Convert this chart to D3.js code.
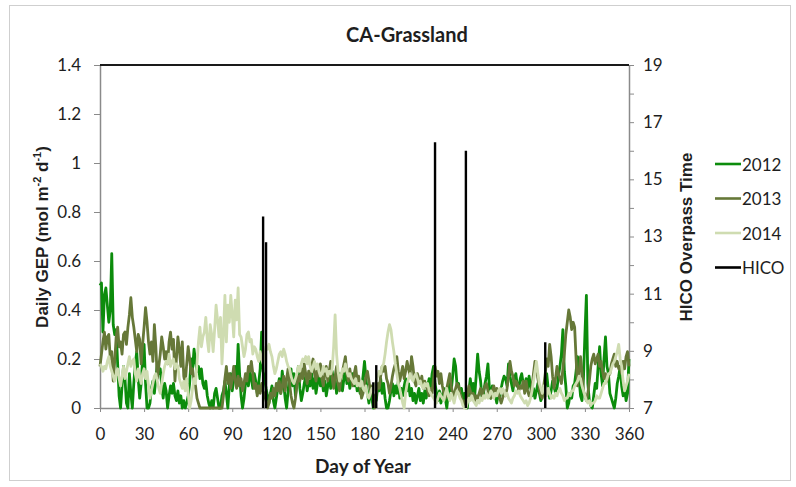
<!DOCTYPE html>
<html>
<head>
<meta charset="utf-8">
<script src="https://cdn.jsdelivr.net/npm/d3@7"></script>
<style>
  body { margin: 0; background: #fff; }
  svg { display: block; }
</style>
</head>
<body>
<svg id="chart" width="796" height="487"></svg>
<script>
// Daily gross ecosystem productivity (mol m-2 d-1), index = day of year (0..360)
const gep2012 = [
  0.50,0.51,0.31,0.46,0.49,0.42,0.35,0.40,0.63,0.34,
  0.30,0.32,0.18,0.05,0.00,0.09,0.17,0.12,0.02,0.00,
  0.14,0.06,0.00,0.10,0.18,0.23,0.12,0.04,0.10,0.20,
  0.26,0.10,0.00,0.00,0.02,0.08,0.11,0.06,0.12,0.18,
  0.14,0.16,0.09,0.04,0.10,0.07,0.00,0.05,0.09,0.06,
  0.10,0.05,0.03,0.07,0.02,0.05,0.00,0.03,0.00,0.02,
  0.05,0.10,0.20,0.16,0.24,0.19,0.15,0.17,0.12,0.16,
  0.10,0.08,0.11,0.05,0.02,0.00,0.03,0.00,0.06,0.08,
  0.04,0.00,0.00,0.05,0.07,0.11,0.06,0.00,0.09,0.14,
  0.07,0.12,0.17,0.10,0.26,0.14,0.05,0.00,0.04,0.10,
  0.13,0.09,0.15,0.12,0.08,0.14,0.11,0.06,0.10,0.16,
  0.31,0.15,0.12,0.08,0.05,0.02,0.06,0.09,0.03,0.00,
  0.04,0.08,0.12,0.06,0.15,0.10,0.04,0.00,0.07,0.13,
  0.16,0.09,0.14,0.05,0.11,0.17,0.08,0.03,0.06,0.10,
  0.13,0.07,0.11,0.09,0.14,0.08,0.12,0.06,0.10,0.15,
  0.09,0.12,0.07,0.11,0.05,0.09,0.13,0.08,0.15,0.10,
  0.12,0.06,0.09,0.14,0.11,0.07,0.12,0.16,0.10,0.13,
  0.08,0.11,0.14,0.09,0.12,0.07,0.10,0.06,0.08,0.13,
  0.19,0.12,0.06,0.02,0.08,0.04,0.00,0.05,0.03,0.09,
  0.07,0.12,0.06,0.10,0.04,0.00,0.00,0.03,0.07,0.10,
  0.05,0.09,0.06,0.11,0.04,0.08,0.05,0.09,0.12,0.07,
  0.10,0.05,0.08,0.03,0.06,0.02,0.05,0.08,0.03,0.06,
  0.02,0.07,0.04,0.09,0.12,0.08,0.14,0.17,0.10,0.06,
  0.03,0.07,0.02,0.05,0.08,0.04,0.00,0.06,0.10,0.07,
  0.13,0.20,0.17,0.09,0.10,0.05,0.08,0.03,0.06,0.02,
  0.00,0.07,0.12,0.06,0.10,0.05,0.13,0.22,0.15,0.11,
  0.04,0.06,0.10,0.13,0.18,0.08,0.04,0.09,0.08,0.05,
  0.02,0.06,0.04,0.08,0.11,0.13,0.12,0.09,0.18,0.13,
  0.10,0.07,0.12,0.14,0.09,0.08,0.12,0.14,0.10,0.09,
  0.12,0.08,0.13,0.09,0.05,0.08,0.04,0.07,0.10,0.06,
  0.03,0.05,0.06,0.10,0.14,0.08,0.04,0.07,0.11,0.09,
  0.06,0.08,0.13,0.17,0.22,0.32,0.15,0.09,0.00,0.02,
  0.06,0.04,0.09,0.10,0.15,0.21,0.12,0.05,0.03,0.12,
  0.30,0.46,0.10,0.03,0.01,0.00,0.05,0.10,0.08,0.17,
  0.25,0.14,0.09,0.20,0.29,0.17,0.14,0.06,0.04,0.02,
  0.00,0.04,0.10,0.13,0.17,0.09,0.05,0.08,0.03,0.06,
  0.20
];
const gep2013 = [
  0.17,0.22,0.27,0.31,0.24,0.29,0.30,0.20,0.23,0.11,
  0.19,0.29,0.33,0.25,0.27,0.22,0.30,0.31,0.26,0.33,
  0.38,0.45,0.37,0.33,0.28,0.23,0.30,0.28,0.18,0.26,
  0.33,0.41,0.35,0.27,0.22,0.27,0.19,0.34,0.25,0.12,
  0.17,0.22,0.29,0.25,0.20,0.23,0.18,0.27,0.31,0.24,
  0.28,0.11,0.20,0.29,0.24,0.17,0.27,0.13,0.10,0.18,
  0.25,0.20,0.14,0.16,0.11,0.09,0.04,0.02,0.00,0.00,
  0.00,0.00,0.00,0.00,0.00,0.00,0.00,0.00,0.00,0.00,
  0.00,0.00,0.00,0.00,0.05,0.12,0.17,0.10,0.14,0.08,
  0.12,0.17,0.11,0.08,0.13,0.09,0.12,0.07,0.10,0.14,
  0.11,0.17,0.15,0.19,0.14,0.08,0.10,0.05,0.09,0.06,
  0.10,0.07,0.05,0.03,0.00,0.02,0.06,0.04,0.08,0.05,
  0.10,0.07,0.11,0.06,0.09,0.13,0.07,0.12,0.16,0.10,
  0.05,0.02,0.00,0.04,0.09,0.13,0.11,0.16,0.12,0.18,
  0.14,0.10,0.15,0.12,0.17,0.20,0.14,0.11,0.16,0.13,
  0.18,0.12,0.09,0.14,0.17,0.11,0.15,0.19,0.12,0.08,
  0.13,0.17,0.10,0.07,0.12,0.15,0.18,0.21,0.14,0.11,
  0.16,0.12,0.09,0.14,0.17,0.11,0.13,0.08,0.04,0.06,
  0.10,0.13,0.15,0.11,0.07,0.09,0.04,0.00,0.06,0.10,
  0.08,0.13,0.17,0.15,0.17,0.12,0.10,0.06,0.09,0.13,
  0.16,0.18,0.21,0.15,0.11,0.14,0.17,0.12,0.15,0.19,
  0.16,0.13,0.21,0.17,0.11,0.09,0.14,0.12,0.10,0.13,
  0.08,0.11,0.09,0.07,0.05,0.08,0.06,0.12,0.17,0.13,
  0.15,0.10,0.14,0.09,0.06,0.04,0.08,0.11,0.14,0.09,
  0.06,0.05,0.08,0.10,0.09,0.06,0.04,0.02,0.03,0.00,
  0.05,0.09,0.07,0.04,0.06,0.03,0.05,0.04,0.06,0.08,
  0.05,0.07,0.09,0.10,0.07,0.05,0.04,0.07,0.09,0.06,
  0.08,0.07,0.04,0.02,0.04,0.06,0.05,0.08,0.13,0.19,
  0.15,0.13,0.09,0.11,0.10,0.07,0.09,0.08,0.11,0.06,
  0.11,0.07,0.05,0.06,0.09,0.14,0.19,0.16,0.12,0.08,
  0.05,0.04,0.09,0.14,0.20,0.17,0.26,0.21,0.13,0.08,
  0.12,0.17,0.14,0.12,0.10,0.16,0.22,0.30,0.35,0.40,
  0.37,0.32,0.35,0.33,0.20,0.09,0.14,0.21,0.15,0.07,
  0.05,0.03,0.06,0.11,0.17,0.20,0.22,0.18,0.20,0.22,
  0.17,0.19,0.15,0.12,0.14,0.11,0.13,0.14,0.18,0.20,
  0.22,0.17,0.19,0.16,0.17,0.14,0.19,0.16,0.21,0.23,
  0.17
];
const gep2014 = [
  0.18,0.17,0.15,0.17,0.16,0.19,0.21,0.17,0.15,0.13,
  0.11,0.14,0.16,0.12,0.09,0.13,0.17,0.12,0.15,0.18,
  0.21,0.17,0.19,0.20,0.14,0.11,0.16,0.13,0.10,0.14,
  0.16,0.12,0.15,0.09,0.04,0.07,0.10,0.13,0.14,0.11,
  0.08,0.06,0.10,0.14,0.17,0.19,0.18,0.22,0.17,0.19,
  0.20,0.16,0.18,0.17,0.12,0.10,0.08,0.11,0.07,0.12,
  0.06,0.00,0.03,0.08,0.12,0.10,0.18,0.27,0.33,0.25,
  0.29,0.31,0.37,0.28,0.23,0.34,0.30,0.23,0.32,0.42,
  0.36,0.29,0.37,0.18,0.30,0.46,0.27,0.42,0.35,0.46,
  0.38,0.29,0.44,0.36,0.49,0.30,0.29,0.25,0.21,0.24,
  0.30,0.31,0.27,0.28,0.22,0.25,0.24,0.21,0.19,0.23,
  0.20,0.18,0.21,0.25,0.24,0.26,0.23,0.21,0.17,0.14,
  0.16,0.19,0.22,0.23,0.21,0.24,0.22,0.19,0.17,0.16,
  0.13,0.11,0.10,0.12,0.14,0.17,0.15,0.18,0.20,0.19,
  0.21,0.18,0.21,0.17,0.15,0.17,0.19,0.16,0.18,0.15,
  0.13,0.14,0.17,0.15,0.16,0.13,0.15,0.14,0.16,0.25,
  0.38,0.22,0.15,0.11,0.13,0.16,0.15,0.18,0.15,0.13,
  0.14,0.12,0.11,0.10,0.12,0.09,0.10,0.09,0.11,0.08,
  0.07,0.09,0.05,0.04,0.06,0.08,0.07,0.09,0.11,0.13,
  0.15,0.14,0.17,0.18,0.22,0.27,0.31,0.34,0.32,0.27,
  0.23,0.18,0.14,0.10,0.08,0.05,0.02,0.00,0.06,0.10,
  0.12,0.14,0.12,0.11,0.13,0.14,0.12,0.10,0.11,0.09,
  0.08,0.10,0.09,0.10,0.07,0.06,0.05,0.04,0.03,0.02,
  0.04,0.06,0.05,0.04,0.03,0.06,0.08,0.05,0.03,0.06,
  0.04,0.02,0.05,0.07,0.06,0.04,0.03,0.01,0.00,0.00,
  0.02,0.04,0.03,0.05,0.03,0.02,0.01,0.03,0.02,0.04,
  0.03,0.05,0.04,0.06,0.04,0.05,0.07,0.06,0.04,0.06,
  0.05,0.07,0.08,0.06,0.08,0.07,0.05,0.06,0.04,0.03,
  0.02,0.04,0.05,0.07,0.06,0.07,0.05,0.04,0.03,0.02,
  0.03,0.01,0.02,0.04,0.07,0.11,0.15,0.19,0.14,0.10,
  0.08,0.06,0.09,0.07,0.05,0.08,0.06,0.04,0.05,0.04,
  0.06,0.05,0.07,0.08,0.06,0.05,0.03,0.04,0.04,0.06,
  0.05,0.07,0.07,0.09,0.10,0.11,0.13,0.12,0.09,0.07,
  0.05,0.03,0.02,0.03,0.01,0.02,0.02,0.03,0.05,0.04,
  0.04,0.06,0.08,0.10,0.10,0.12,0.14,0.14,0.16,0.18,
  0.19,0.21,0.23,0.26,0.20,0.17,0.11,0.07,0.09,0.11,
  0.14
];

// HICO overpasses: day of year and local overpass time (h)
const hicoDays  = [111, 113, 186, 188, 228, 249, 303];
const hicoTimes = [13.7, 12.8, 7.9, 8.5, 16.3, 16.0, 9.3];

const xTicks     = [0, 30, 60, 90, 120, 150, 180, 210, 240, 270, 300, 330, 360];
const leftTicks  = [0, 0.2, 0.4, 0.6, 0.8, 1, 1.2, 1.4];
const rightTicks = [7, 8, 9, 10, 11, 12, 13, 14, 15, 16, 17, 18, 19];

const seriesNames  = ["2012", "2013", "2014"];
const seriesColors = ["#0c8c0c", "#667838", "#cfdcb1"];

const chartTitle = "CA-Grassland";
const xTitle = "Day of Year";
const rightTitle = "HICO Overpass Time";

// ---- layout ----
const plot = { left: 100, right: 629, top: 65, bottom: 408 };
const axisGray = "#8a8a8a";
const textColor = "#1e1e1e";
const tickFont = "Lato, 'Open Sans', sans-serif";

const svg = d3.select("#chart");

// outer frame
svg.append("rect")
  .attr("x", 9.5).attr("y", 5.5).attr("width", 781).attr("height", 475)
  .attr("fill", "#fff").attr("stroke", "#cfcfcf").attr("stroke-width", 1);

const x  = d3.scaleLinear().domain([0, 360]).range([plot.left, plot.right]);
const yL = d3.scaleLinear().domain([0, 1.4]).range([plot.bottom, plot.top]);
const yR = d3.scaleLinear().domain([7, 19]).range([plot.bottom, plot.top]);

// ---- axes ----
function styleAxis(g) {
  g.select(".domain").attr("stroke", axisGray).attr("stroke-width", 1.5);
  g.selectAll(".tick line").attr("stroke", axisGray).attr("stroke-width", 1);
  g.selectAll(".tick text")
    .attr("fill", textColor)
    .style("font-family", tickFont)
    .style("font-size", "17px");
}

svg.append("g")
  .attr("transform", `translate(0,${plot.bottom})`)
  .call(d3.axisBottom(x).tickValues(xTicks).tickSize(4).tickPadding(16).tickSizeOuter(0))
  .call(styleAxis);

svg.append("g")
  .attr("transform", `translate(${plot.left},0)`)
  .call(d3.axisLeft(yL).tickValues(leftTicks).tickFormat(d3.format("~g"))
        .tickSize(6).tickPadding(13).tickSizeOuter(0))
  .call(styleAxis);

svg.append("g")
  .attr("transform", `translate(${plot.right},0)`)
  .call(d3.axisRight(yR).tickValues(rightTicks)
        .tickFormat(d => (d % 2 === 1 ? d : ""))
        .tickSize(5).tickPadding(9).tickSizeOuter(0))
  .call(styleAxis);

// top frame edge
svg.append("line")
  .attr("x1", plot.left).attr("x2", plot.right)
  .attr("y1", plot.top).attr("y2", plot.top)
  .attr("stroke", "#1a1a1a").attr("stroke-width", 2);

// ---- GEP series ----
const series = [gep2012, gep2013, gep2014].map((values, i) => ({
  name: seriesNames[i], color: seriesColors[i], values
}));

const line = d3.line()
  .x((d, i) => x(i))
  .y(d => yL(d));

svg.append("g")
  .selectAll("path")
  .data(series)
  .join("path")
  .attr("d", s => line(s.values))
  .attr("fill", "none")
  .attr("stroke", s => s.color)
  .attr("stroke-width", 2.8)
  .attr("stroke-linejoin", "round");

// ---- HICO overpass markers ----
svg.append("g")
  .selectAll("line")
  .data(hicoDays.map((d, i) => ({ day: d, time: hicoTimes[i] })))
  .join("line")
  .attr("x1", d => x(d.day)).attr("x2", d => x(d.day))
  .attr("y1", yR(7)).attr("y2", d => yR(d.time))
  .attr("stroke", "#000").attr("stroke-width", 2.4);

// ---- titles ----
svg.append("text")
  .attr("x", 407).attr("y", 34)
  .attr("text-anchor", "middle").attr("dominant-baseline", "central")
  .attr("fill", textColor)
  .style("font-family", tickFont).style("font-weight", "bold").style("font-size", "20px")
  .text(chartTitle);

svg.append("text")
  .attr("x", 363).attr("y", 465)
  .attr("text-anchor", "middle").attr("dominant-baseline", "central")
  .attr("fill", textColor)
  .style("font-family", tickFont).style("font-weight", "bold").style("font-size", "19px")
  .text(xTitle);

const yTitle = svg.append("text")
  .attr("transform", "translate(48,237) rotate(-90)")
  .attr("text-anchor", "middle")
  .attr("fill", textColor)
  .style("font-family", "'Liberation Sans', Arial, sans-serif")
  .style("font-weight", "bold").style("font-size", "17px");
yTitle.append("tspan").text("Daily GEP (mol m");
yTitle.append("tspan").attr("dy", -7).style("font-size", "11px").text("-2");
yTitle.append("tspan").attr("dy", 7).text(" d");
yTitle.append("tspan").attr("dy", -7).style("font-size", "11px").text("-1");
yTitle.append("tspan").attr("dy", 7).text(")");

svg.append("text")
  .attr("transform", "translate(692,237) rotate(-90)")
  .attr("text-anchor", "middle")
  .attr("fill", textColor)
  .style("font-family", "'Liberation Sans', Arial, sans-serif")
  .style("font-weight", "bold").style("font-size", "17px")
  .text(rightTitle);

// ---- legend ----
const legendItems = seriesNames.map((n, i) => ({ name: n, color: seriesColors[i] }))
  .concat([{ name: "HICO", color: "#000" }]);

const legend = svg.append("g")
  .selectAll("g")
  .data(legendItems)
  .join("g")
  .attr("transform", (d, i) => `translate(715,${164 + i * 34.5})`);

legend.append("line")
  .attr("x1", 0).attr("x2", 26)
  .attr("stroke", d => d.color).attr("stroke-width", 2.6);

legend.append("text")
  .attr("x", 27).attr("dominant-baseline", "central")
  .attr("fill", textColor)
  .style("font-family", tickFont).style("font-size", "17px")
  .text(d => d.name);
</script>
</body>
</html>
